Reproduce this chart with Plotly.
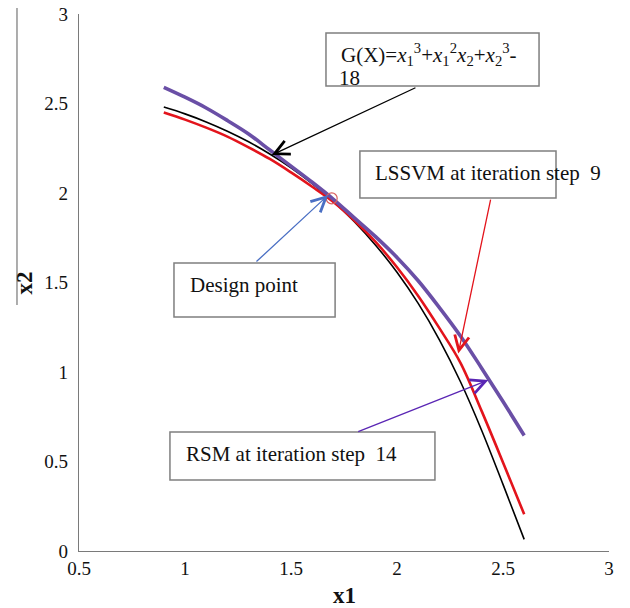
import plotly.graph_objects as go

# ---- data ----
x1_vals = [0.9, 1.0, 1.1, 1.2, 1.3, 1.4, 1.5, 1.6, 1.7, 1.8, 1.9, 2.0, 2.1, 2.2, 2.3, 2.4, 2.5, 2.6]
exact_x2 = [2.48, 2.442, 2.397, 2.345, 2.286, 2.218, 2.141, 2.053, 1.953, 1.838, 1.707, 1.557,
            1.383, 1.18, 0.944, 0.672, 0.372, 0.065]
lssvm_x2 = [2.45, 2.41, 2.365, 2.315, 2.255, 2.19, 2.115, 2.035, 1.95, 1.845, 1.725, 1.585,
            1.425, 1.245, 1.05, 0.78, 0.495, 0.205]
rsm_x2 = [2.59, 2.535, 2.475, 2.405, 2.33, 2.24, 2.15, 2.06, 1.965, 1.86, 1.755, 1.64,
          1.51, 1.36, 1.2, 1.02, 0.835, 0.645]
design_point = (1.692, 1.97)

x_ticks = [0.5, 1, 1.5, 2, 2.5, 3]
x_tick_text = ["0.5", "1", "1.5", "2", "2.5", "3"]
y_ticks = [0, 0.5, 1, 1.5, 2, 2.5, 3]
y_tick_text = ["0", "0.5", "1", "1.5", "2", "2.5", "3"]

FONT = "Liberation Serif, Times New Roman, serif"

fig = go.Figure()
fig.add_trace(go.Scatter(x=x1_vals, y=exact_x2, mode="lines",
                         line=dict(color="#000000", width=1.6, shape="spline"), showlegend=False))
fig.add_trace(go.Scatter(x=x1_vals, y=lssvm_x2, mode="lines",
                         line=dict(color="#e3141c", width=2.6, shape="spline"), showlegend=False))
fig.add_trace(go.Scatter(x=x1_vals, y=rsm_x2, mode="lines",
                         line=dict(color="#6a4fa6", width=3.6, shape="spline"), showlegend=False))
fig.add_trace(go.Scatter(x=[design_point[0]], y=[design_point[1]], mode="markers",
                         marker=dict(symbol="circle-open", size=11, color="#d9605e",
                                     line=dict(width=1.2)), showlegend=False))

# boxes (data coords)
boxes = [
    (1.665, 2.67, 2.598, 2.894),
    (1.825, 2.75, 1.972, 2.235),
    (0.948, 1.708, 1.307, 1.609),
    (0.929, 2.179, 0.397, 0.665),
]
shapes = []
for x0, x1, y0, y1 in boxes:
    shapes.append(dict(type="rect", xref="x", yref="y", x0=x0, x1=x1, y0=y0, y1=y1,
                       line=dict(color="#7f7f7f", width=1.5), fillcolor="white", layer="above"))
# stray vertical line left of the y title
shapes.append(dict(type="line", xref="paper", yref="paper", x0=-0.117, x1=-0.117,
                   y0=0.458, y1=1.011, line=dict(color="#777777", width=1.2)))

tf = dict(family=FONT, size=21, color="#111111")
annotations = [
    dict(x=2.151, y=2.771, xref="x", yref="y", xanchor="center", yanchor="middle", showarrow=False,
         font=tf,
         text="G(X)=<i>x</i><sub>1</sub><sup>3</sup>+<i>x</i><sub>1</sub><sup>2</sup><i>x</i><sub>2</sub>"
              "+<i>x</i><sub>2</sub><sup>3</sup>-"),
    dict(x=1.778, y=2.645, xref="x", yref="y", xanchor="center", yanchor="middle", showarrow=False,
         font=tf, text="18"),
    dict(x=1.887, y=2.112, xref="x", yref="y", xanchor="left", yanchor="middle", showarrow=False,
         font=tf, text="LSSVM at iteration step  9"),
    dict(x=1.014, y=1.486, xref="x", yref="y", xanchor="left", yanchor="middle", showarrow=False,
         font=tf, text="Design point"),
    dict(x=0.995, y=0.542, xref="x", yref="y", xanchor="left", yanchor="middle", showarrow=False,
         font=tf, text="RSM at iteration step  14"),
    # arrows
    dict(x=1.409, y=2.212, ax=2.094, ay=2.592, xref="x", yref="y", axref="x", ayref="y",
         showarrow=True, arrowhead=5, arrowsize=2.2, arrowwidth=1.3, arrowcolor="#000000", text=""),
    dict(x=2.289, y=1.104, ax=2.443, ay=1.972, xref="x", yref="y", axref="x", ayref="y",
         showarrow=True, arrowhead=5, arrowsize=2.2, arrowwidth=1.3, arrowcolor="#e3141c", text=""),
    dict(x=1.676, y=1.989, ax=1.330, ay=1.609, xref="x", yref="y", axref="x", ayref="y",
         showarrow=True, arrowhead=5, arrowsize=2.2, arrowwidth=1.3, arrowcolor="#4a6fc4", text=""),
    dict(x=2.431, y=0.955, ax=1.810, ay=0.663, xref="x", yref="y", axref="x", ayref="y",
         showarrow=True, arrowhead=5, arrowsize=2.2, arrowwidth=1.3, arrowcolor="#5a26b4", text=""),
    # axis titles
    dict(x=0.5, y=-0.082, xref="paper", yref="paper", xanchor="center", yanchor="middle",
         showarrow=False, text="<b>x1</b>", font=dict(family=FONT, size=23, color="#111111")),
    dict(x=-0.102, y=0.5, xref="paper", yref="paper", xanchor="center", yanchor="middle",
         showarrow=False, textangle=-90, text="<b>x2</b>",
         font=dict(family=FONT, size=23, color="#111111")),
]

fig.update_layout(
    width=630, height=608, autosize=False,
    margin=dict(l=79, r=21, t=14, b=57, autoexpand=False),
    paper_bgcolor="white", plot_bgcolor="white",
    shapes=shapes, annotations=annotations,
    font=dict(family=FONT, color="#111111"),
    hovermode=False,
)
fig.update_xaxes(range=[0.5, 3], tickvals=x_ticks, ticktext=x_tick_text, showgrid=False,
                 zeroline=False, showline=True, linecolor="#7a7a7a", linewidth=1.3,
                 ticks="outside", ticklen=0, tickcolor="rgba(0,0,0,0)", automargin=False,
                 tickfont=dict(family=FONT, size=19, color="#111111"))
fig.update_yaxes(range=[0, 3], tickvals=y_ticks, ticktext=y_tick_text, showgrid=False,
                 zeroline=False, showline=True, linecolor="#7a7a7a", linewidth=1.3,
                 ticks="outside", ticklen=6, tickcolor="rgba(0,0,0,0)", automargin=False,
                 tickfont=dict(family=FONT, size=19, color="#111111"))

fig.write_html("out.html", config={"displayModeBar": False},
               post_script="document.body.style.margin='0';document.body.style.overflow='hidden';")
